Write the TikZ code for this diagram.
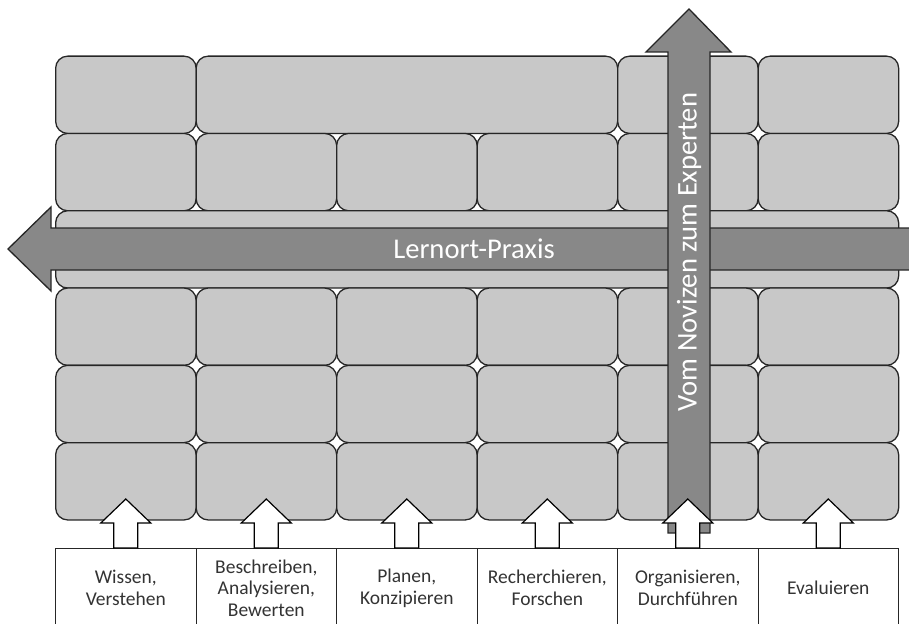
\documentclass[tikz,border=0pt]{standalone}
\usepackage{fontspec}
\setmainfont{Carlito}
\usetikzlibrary{calc}
\definecolor{brickgray}{RGB}{200,200,200}
\definecolor{arrowgray}{RGB}{136,136,136}
\definecolor{edgegray}{RGB}{38,38,38}
\begin{document}
\begin{tikzpicture}[x=1pt,y=-1pt,
  brick/.style={draw=edgegray, fill=brickgray, line width=1.3pt,
    rounded corners=12pt, inner sep=0pt, anchor=north west,
    minimum height=77.3pt},
  taskbox/.style={draw=edgegray, fill=white, line width=1.1pt, inner sep=0pt,
    anchor=north west, minimum width=140.5pt, minimum height=79pt,
    align=center, font=\fontsize{19.5}{21.7}\selectfont, text=black!80},
  bigarrow/.style={draw=edgegray, fill=arrowgray, line width=1.3pt, line join=miter},
  uparrow/.style={draw=black, fill=white, line width=1.2pt, line join=miter},
  arrowlabel/.style={text=white, font=\fontsize{28.6}{30}\selectfont, inner sep=0pt}]
\clip (0,0) rectangle (909,623);

% wall of bricks
% row 1
\node[brick, minimum width=140.5pt] (r1c1) at (55,55.5) {};
\node[brick, minimum width=421.5pt] (r1c2) at (195.5,55.5) {};
\node[brick, minimum width=140.5pt] (r1c5) at (617,55.5) {};
\node[brick, minimum width=140.5pt] (r1c6) at (757.5,55.5) {};
% row 2
\foreach \c in {1,...,6}
  \node[brick, minimum width=140.5pt] (r2c\c) at ({55+(\c-1)*140.5},132.8) {};
% row 3: one long brick
\node[brick, minimum width=843pt] (r3c1) at (55,210.1) {};
% rows 4 to 6
\foreach \r/\y in {4/287.4,5/364.7,6/442}
  \foreach \c in {1,...,6}
    \node[brick, minimum width=140.5pt] (r\r c\c) at ({55+(\c-1)*140.5},\y) {};

% competence boxes
\foreach \c/\t in {1/{Wissen,\\Verstehen},
                   2/{Beschreiben,\\Analysieren,\\Bewerten},
                   3/{Planen,\\Konzipieren},
                   4/{Recherchieren,\\Forschen},
                   5/{Organisieren,\\Durchführen},
                   6/{Evaluieren}}
  \node[taskbox] (task\c) at ({55+(\c-1)*140.5},548) {\t};

% horizontal arrow: Lernort-Praxis
\draw[bigarrow] (915,228) -- (51,228) -- (51,207) -- (8,249) -- (51,291)
  -- (51,270) -- (915,270) -- cycle;
\node[arrowlabel] (praxis) at (474,249) {Lernort-Praxis};

% vertical arrow: from novice to expert
\draw[bigarrow] (668,533) -- (668,52) -- (646,52) -- (689,9) -- (731,52)
  -- (710,52) -- (710,533) -- cycle;
\node[arrowlabel, rotate=90] (novize) at (689,252) {Vom Novizen zum Experten};

% small arrows from each competence into the wall
\foreach \c in {1,...,6}
  \draw[uparrow] ([xshift=-12pt]task\c.north) -- ++(0,-25) -- ++(-13,0)
    -- ++(25,-24) -- ++(25,24) -- ++(-13,0) -- ++(0,25) -- cycle;
\end{tikzpicture}
\end{document}
